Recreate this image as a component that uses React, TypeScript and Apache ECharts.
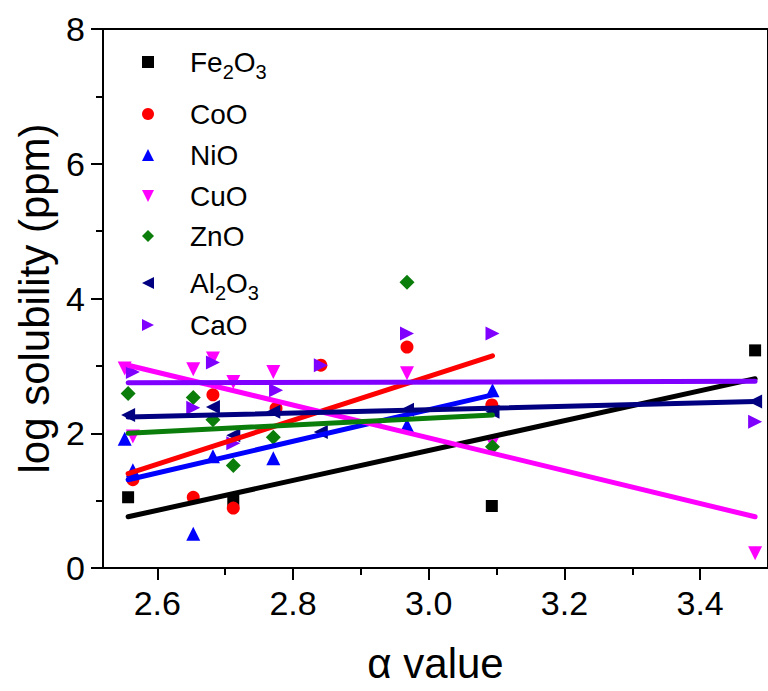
import React, { useEffect, useRef } from "react";
import * as echarts from "echarts";

// Scatter data: alpha value (x) and log solubility in ppm (y) for each oxide
const fe2o3X = [2.557, 2.712, 3.093, 3.481];
const fe2o3Y = [1.05, 1.01, 0.92, 3.23];
const cooX = [2.564, 2.653, 2.682, 2.712, 2.775, 2.841, 2.968, 3.093];
const cooY = [1.31, 1.05, 2.57, 0.89, 2.37, 3.01, 3.28, 2.42];
const nioX = [2.552, 2.564, 2.653, 2.682, 2.771, 2.968, 3.094];
const nioY = [1.92, 1.45, 0.51, 1.66, 1.63, 2.12, 2.64];
const cuoX = [2.552, 2.564, 2.653, 2.682, 2.712, 2.771, 2.968, 3.094, 3.481];
const cuoY = [2.96, 1.95, 2.95, 3.11, 2.76, 2.91, 2.89, 1.85, 0.22];
const znoX = [2.557, 2.653, 2.682, 2.712, 2.771, 2.968, 3.094];
const znoY = [2.59, 2.53, 2.2, 1.52, 1.94, 4.24, 1.8];
const al2o3X = [2.557, 2.682, 2.712, 2.771, 2.841, 2.968, 3.094, 3.481];
const al2o3Y = [2.27, 2.39, 1.97, 2.32, 2.02, 2.35, 2.32, 2.47];
const caoX = [2.564, 2.653, 2.682, 2.712, 2.775, 2.841, 2.968, 3.094, 3.481];
const caoY = [2.91, 2.38, 3.05, 1.85, 2.64, 3.01, 3.48, 3.48, 2.17];

// Linear fit end points [x0, y0, x1, y1]
const fe2o3Fit = [2.557, 0.76, 3.481, 2.81];
const cooFit = [2.557, 1.4, 3.094, 3.15];
const nioFit = [2.557, 1.31, 3.094, 2.57];
const cuoFit = [2.557, 3.01, 3.481, 0.76];
const znoFit = [2.557, 2.0, 3.094, 2.27];
const al2o3Fit = [2.557, 2.24, 3.481, 2.47];
const caoFit = [2.557, 2.75, 3.481, 2.77];

const xMajorTicks = [2.6, 2.8, 3.0, 3.2, 3.4];
const xMinorTicks = [2.7, 2.9, 3.1, 3.3];

const FONT = "'Liberation Sans', Arial, sans-serif";

// Legend icons for the rotated triangles
const ICON_DOWN = "path://M0,0L10,0L5,10Z";
const ICON_LEFT = "path://M10,0L10,10L0,5Z";
const ICON_RIGHT = "path://M0,0L10,5L0,10Z";

const oxides = [
  { name: "Fe2O3", rich: "{m|Fe}{s|2}{m|O}{s|3}", x: fe2o3X, y: fe2o3Y, fit: fe2o3Fit, color: "#000000", symbol: "rect", size: 12, rotate: 0, icon: "rect" },
  { name: "CoO", rich: "{m|CoO}", x: cooX, y: cooY, fit: cooFit, color: "#ff0000", symbol: "circle", size: 13, rotate: 0, icon: "circle" },
  { name: "NiO", rich: "{m|NiO}", x: nioX, y: nioY, fit: nioFit, color: "#0000ff", symbol: "triangle", size: 14, rotate: 0, icon: "triangle" },
  { name: "CuO", rich: "{m|CuO}", x: cuoX, y: cuoY, fit: cuoFit, color: "#ff00ff", symbol: "triangle", size: 14, rotate: 180, icon: ICON_DOWN },
  { name: "ZnO", rich: "{m|ZnO}", x: znoX, y: znoY, fit: znoFit, color: "#0a7d0a", symbol: "diamond", size: 15, rotate: 0, icon: "diamond" },
  { name: "Al2O3", rich: "{m|Al}{s|2}{m|O}{s|3}", x: al2o3X, y: al2o3Y, fit: al2o3Fit, color: "#000080", symbol: "triangle", size: 14, rotate: 90, icon: ICON_LEFT },
  { name: "CaO", rich: "{m|CaO}", x: caoX, y: caoY, fit: caoFit, color: "#8000ff", symbol: "triangle", size: 14, rotate: -90, icon: ICON_RIGHT },
];

// Vertical centre of each legend row
const legendRowCenters = [57, 115, 156, 197, 237, 278, 326];

export default function App() {
  const ref = useRef<HTMLDivElement>(null);

  useEffect(() => {
    if (!ref.current) return;
    const chart = echarts.init(ref.current, null, { renderer: "svg" });

    const richStyles = {
      sp: { width: 31, fontSize: 28, lineHeight: 40 },
      m: { fontSize: 28, lineHeight: 40, color: "#000", fontFamily: FONT },
      s: { fontSize: 20, lineHeight: 20, padding: [20, 0, 0, 0], color: "#000", fontFamily: FONT },
    };

    const legends = oxides.map((o, i) => ({
      data: [{ name: o.name, icon: o.icon }],
      left: 137,
      top: legendRowCenters[i] - 20,
      itemWidth: 12,
      itemHeight: 12,
      selectedMode: false,
      formatter: () => "{sp| }" + o.rich,
      textStyle: { rich: richStyles },
    }));

    const scatterSeries = oxides.map((o) => ({
      name: o.name,
      type: "scatter",
      symbol: o.symbol,
      symbolSize: o.size,
      symbolRotate: o.rotate,
      itemStyle: { color: o.color, opacity: 1 },
      data: o.x.map((v, k) => [v, o.y[k]]),
      z: 2,
    }));

    const fitSeries = oxides.map((o) => ({
      name: o.name + " fit",
      type: "line",
      showSymbol: false,
      symbol: "none",
      lineStyle: { color: o.color, width: 5, cap: "round" },
      data: [
        [o.fit[0], o.fit[1]],
        [o.fit[2], o.fit[3]],
      ],
      z: 3,
    }));

    chart.setOption({
      animation: false,
      backgroundColor: "#ffffff",
      textStyle: { fontFamily: FONT },
      grid: {
        left: 103,
        top: 29,
        width: 671,
        height: 539,
        show: true,
        borderColor: "#000",
        borderWidth: 2,
        containLabel: false,
      },
      legend: legends,
      xAxis: [
        {
          type: "value",
          min: 2.52,
          max: 3.5,
          name: "α value",
          nameLocation: "middle",
          nameGap: 74,
          nameTextStyle: { fontSize: 42, color: "#000", fontFamily: FONT },
          axisLine: { show: true, onZero: false, lineStyle: { color: "#000", width: 2 } },
          axisTick: { show: true, inside: false, length: 12, lineStyle: { color: "#000", width: 2 }, customValues: xMajorTicks },
          axisLabel: { fontSize: 34, color: "#000", margin: 18, customValues: xMajorTicks, formatter: (v: number) => v.toFixed(1) },
          splitLine: { show: false },
        },
        {
          type: "value",
          min: 2.52,
          max: 3.5,
          position: "bottom",
          axisLine: { show: false },
          axisTick: { show: true, inside: false, length: 7, lineStyle: { color: "#000", width: 2 }, customValues: xMinorTicks },
          axisLabel: { show: false },
          splitLine: { show: false },
        },
      ],
      yAxis: {
        type: "value",
        min: 0,
        max: 8,
        interval: 2,
        name: "log solubility (ppm)",
        nameLocation: "middle",
        nameGap: 46,
        nameTextStyle: { fontSize: 42, color: "#000", fontFamily: FONT },
        axisLine: { show: true, lineStyle: { color: "#000", width: 2 } },
        axisTick: { show: true, inside: false, length: 12, lineStyle: { color: "#000", width: 2 } },
        minorTick: { show: true, splitNumber: 2, length: 7, lineStyle: { color: "#000", width: 2 } },
        axisLabel: { fontSize: 34, color: "#000", margin: 18 },
        splitLine: { show: false },
        minorSplitLine: { show: false },
      },
      series: [...scatterSeries, ...fitSeries],
    });

    return () => chart.dispose();
  }, []);

  return (
    <div
      ref={ref}
      style={{ position: "fixed", left: 0, top: 0, width: 768, height: 691, background: "#fff" }}
    />
  );
}
